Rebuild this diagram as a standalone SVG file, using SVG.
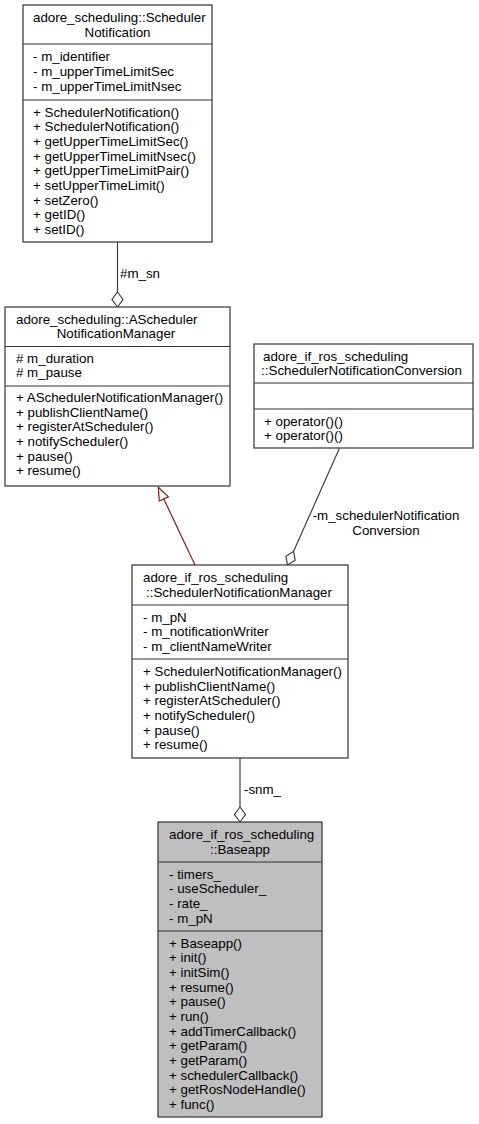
<svg xmlns="http://www.w3.org/2000/svg" width="479" height="1124" viewBox="0 0 479 1124">
<style>
text{font-family:"Liberation Sans",Arial,Helvetica,sans-serif;font-size:13.33px;fill:#000}
.box{fill:#fff;stroke:#333;stroke-width:1.2}
.cur{fill:#bfbfbf}
.sep{stroke:#333;stroke-width:1.2}
.m{text-anchor:middle}
.edge{stroke:#404040;stroke-width:1.2;fill:none}
.dia{stroke:#404040;stroke-width:1.2;fill:#fff}
.inh{stroke:#8b1a1a;stroke-width:1.2;fill:none}
.tri{stroke:#8b1a1a;stroke-width:1.2;fill:#fff}
</style>
<rect width="479" height="1124" fill="#fff"/>
<g id="connectors">
<line class="edge" x1="117.5" y1="242" x2="117.5" y2="292"/>
<polygon class="dia" points="117.5,292 123,299.5 117.5,307 112,299.5"/>
<text x="120" y="278">#m_sn</text>
<line class="inh" x1="195" y1="565" x2="163.8" y2="499"/>
<polygon class="tri" points="158.3,487.3 168.3,496.9 159.3,501.1"/>
<line class="edge" x1="339.3" y1="448.5" x2="293.6" y2="551.3"/>
<polygon class="dia" points="293.6,551.3 295.1,560.2 287.5,565 285.9,556.2"/>
<text class="m" x="386" y="520">-m_schedulerNotification</text>
<text class="m" x="386" y="535">Conversion</text>
<line class="edge" x1="240" y1="758" x2="240" y2="807"/>
<polygon class="dia" points="240,807 245.5,814.5 240,822 234.5,814.5"/>
<text x="244" y="794">-snm_</text>
</g>
<g id="SchedulerNotification">
<rect class="box" x="23" y="5" width="189" height="237"/>
<line class="sep" x1="23" y1="44" x2="212" y2="44"/>
<line class="sep" x1="23" y1="100" x2="212" y2="100"/>
<text x="33" y="22">adore_scheduling::Scheduler</text>
<text class="m" x="117.5" y="36.7">Notification</text>
<text x="33" y="61.2">- m_identifier</text>
<text x="33" y="75.9">- m_upperTimeLimitSec</text>
<text x="33" y="90.5">- m_upperTimeLimitNsec</text>
<text x="33" y="116.5">+ SchedulerNotification()</text>
<text x="33" y="131.2">+ SchedulerNotification()</text>
<text x="33" y="145.8">+ getUpperTimeLimitSec()</text>
<text x="33" y="160.5">+ getUpperTimeLimitNsec()</text>
<text x="33" y="175.2">+ getUpperTimeLimitPair()</text>
<text x="33" y="189.8">+ setUpperTimeLimit()</text>
<text x="33" y="204.5">+ setZero()</text>
<text x="33" y="219.2">+ getID()</text>
<text x="33" y="233.8">+ setID()</text>
</g>
<g id="ASchedulerNotificationManager">
<rect class="box" x="5" y="307" width="225" height="179"/>
<line class="sep" x1="5" y1="346.5" x2="230" y2="346.5"/>
<line class="sep" x1="5" y1="386" x2="230" y2="386"/>
<text x="16" y="323.5">adore_scheduling::AScheduler</text>
<text class="m" x="116" y="338.2">NotificationManager</text>
<text x="16" y="362.6">#  m_duration</text>
<text x="16" y="377.3">#  m_pause</text>
<text x="16" y="402">+ ASchedulerNotificationManager()</text>
<text x="16" y="416.7">+ publishClientName()</text>
<text x="16" y="431.3">+ registerAtScheduler()</text>
<text x="16" y="446">+ notifyScheduler()</text>
<text x="16" y="460.7">+ pause()</text>
<text x="16" y="475.3">+ resume()</text>
</g>
<g id="SchedulerNotificationConversion">
<rect class="box" x="254" y="344" width="219" height="104"/>
<line class="sep" x1="254" y1="383" x2="473" y2="383"/>
<line class="sep" x1="254" y1="409" x2="473" y2="409"/>
<text x="263" y="360.5">adore_if_ros_scheduling</text>
<text class="m" x="361.5" y="375.2">::SchedulerNotificationConversion</text>
<text x="264" y="425.5">+ operator()()</text>
<text x="264" y="440.2">+ operator()()</text>
</g>
<g id="SchedulerNotificationManager">
<rect class="box" x="132" y="565" width="216" height="193"/>
<line class="sep" x1="132" y1="605" x2="348" y2="605"/>
<line class="sep" x1="132" y1="659" x2="348" y2="659"/>
<text x="143" y="582">adore_if_ros_scheduling</text>
<text class="m" x="239" y="596.7">::SchedulerNotificationManager</text>
<text x="143" y="621.5">- m_pN</text>
<text x="143" y="636.2">- m_notificationWriter</text>
<text x="143" y="650.8">- m_clientNameWriter</text>
<text x="143" y="676">+ SchedulerNotificationManager()</text>
<text x="143" y="690.7">+ publishClientName()</text>
<text x="143" y="705.3">+ registerAtScheduler()</text>
<text x="143" y="720">+ notifyScheduler()</text>
<text x="143" y="734.7">+ pause()</text>
<text x="143" y="749.3">+ resume()</text>
</g>
<g id="Baseapp">
<rect class="box cur" x="158" y="822" width="164" height="295"/>
<line class="sep" x1="158" y1="862" x2="322" y2="862"/>
<line class="sep" x1="158" y1="931" x2="322" y2="931"/>
<text x="169" y="839">adore_if_ros_scheduling</text>
<text class="m" x="240" y="853.7">::Baseapp</text>
<text x="169" y="878.7">- timers_</text>
<text x="169" y="893.4">- useScheduler_</text>
<text x="169" y="908">- rate_</text>
<text x="169" y="922.7">- m_pN</text>
<text x="169" y="947.5">+ Baseapp()</text>
<text x="169" y="962.2">+ init()</text>
<text x="169" y="976.8">+ initSim()</text>
<text x="169" y="991.5">+ resume()</text>
<text x="169" y="1006.2">+ pause()</text>
<text x="169" y="1020.8">+ run()</text>
<text x="169" y="1035.5">+ addTimerCallback()</text>
<text x="169" y="1050.2">+ getParam()</text>
<text x="169" y="1064.8">+ getParam()</text>
<text x="169" y="1079.5">+ schedulerCallback()</text>
<text x="169" y="1094.2">+ getRosNodeHandle()</text>
<text x="169" y="1108.8">+ func()</text>
</g>
</svg>
